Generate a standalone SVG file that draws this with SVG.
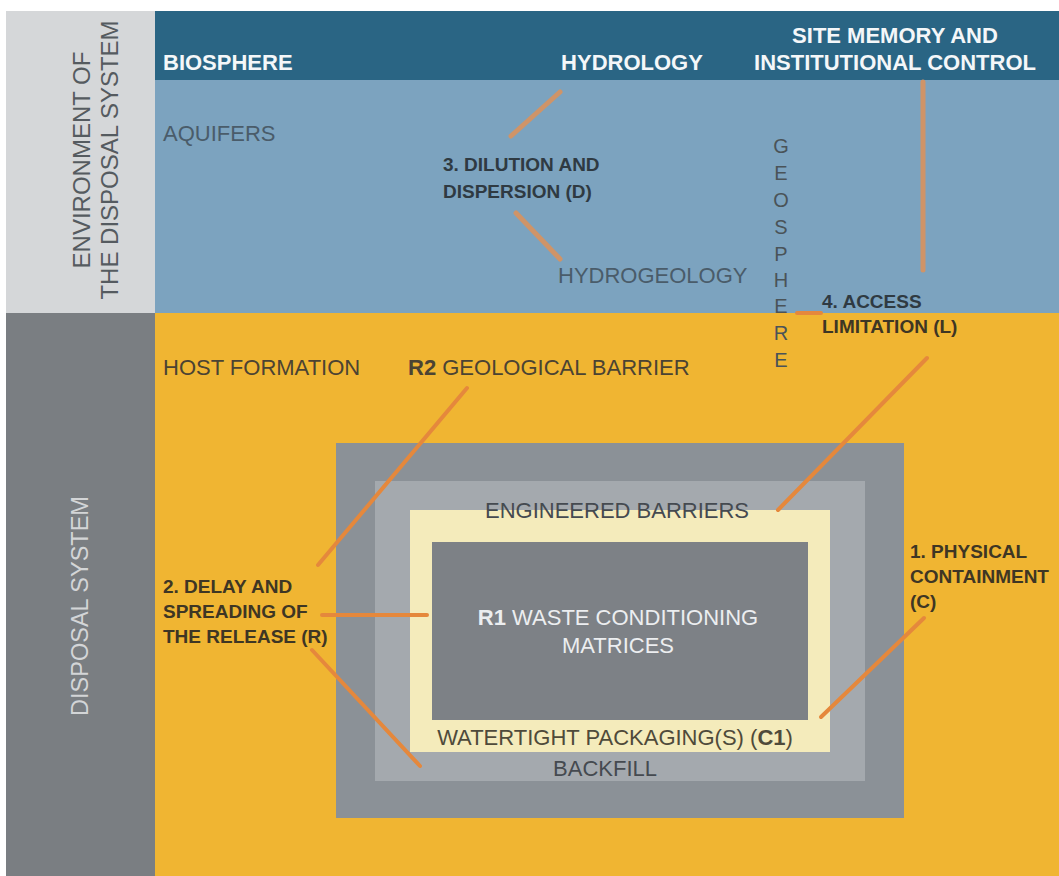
<svg xmlns="http://www.w3.org/2000/svg" width="1059" height="876" viewBox="0 0 1059 876">
<style>
text{font-family:"Liberation Sans",Arial,sans-serif}
.hd{fill:#f4f7f9;font-weight:bold;font-size:22px}
.bl{fill:#4a5c6a;font-size:22px}
.lbl{fill:#2f3a42;font-weight:bold;font-size:19px}
.yl{fill:#4b4333;font-size:22px}
.ylb{fill:#3e3624;font-weight:bold;font-size:19px}
.gr{fill:#454a50;font-size:22px}
.wt{fill:#eceef0;font-size:22px}
.geo{fill:#4a5358;font-size:20px;text-anchor:middle}
.ln{stroke:#e5883c;stroke-width:4;fill:none;stroke-linecap:round}
.lnb{stroke:#cf9468;stroke-width:5;fill:none;stroke-linecap:round}
</style>
<rect width="1059" height="876" fill="#ffffff"/>
<g id="environment-side">
<rect x="6" y="11" width="149" height="302" fill="#d5d7d9"/>
<text transform="translate(90,160) rotate(-90)" text-anchor="middle" font-size="24" fill="#555b60">ENVIRONMENT OF</text>
<text transform="translate(118,160) rotate(-90)" text-anchor="middle" font-size="24" fill="#555b60">THE DISPOSAL SYSTEM</text>
</g>
<g id="disposal-side">
<rect x="6" y="313" width="149" height="563" fill="#7a7e82"/>
<text transform="translate(88,606) rotate(-90)" text-anchor="middle" font-size="23.5" fill="#d3d5d7">DISPOSAL SYSTEM</text>
</g>
<g id="biosphere-band">
<rect x="155" y="11" width="904" height="69" fill="#2a6584"/>
<text class="hd" x="163" y="70" font-size="23">BIOSPHERE</text>
<text class="hd" x="632" y="70" text-anchor="middle">HYDROLOGY</text>
<text class="hd" x="895" y="43" text-anchor="middle">SITE MEMORY AND</text>
<text class="hd" x="895" y="70" text-anchor="middle">INSTITUTIONAL CONTROL</text>
</g>
<g id="aquifers">
<rect x="155" y="80" width="904" height="233" fill="#7ca3bf"/>
<text class="bl" x="163" y="141">AQUIFERS</text>
<text class="bl" x="558" y="283">HYDROGEOLOGY</text>
</g>
<g id="host-formation">
<rect x="155" y="313" width="904" height="563" fill="#f0b532"/>
<text class="yl" x="163" y="375">HOST FORMATION</text>
<text class="yl" x="408" y="375"><tspan font-weight="bold">R2</tspan> GEOLOGICAL BARRIER</text>
</g>
<g id="geosphere">
<text class="geo" x="781" y="153">G</text>
<text class="geo" x="781" y="180">E</text>
<text class="geo" x="781" y="207">O</text>
<text class="geo" x="781" y="234">S</text>
<text class="geo" x="781" y="261">P</text>
<text class="geo" x="781" y="287">H</text>
<text class="geo" x="781" y="313">E</text>
<text class="geo" x="781" y="340">R</text>
<text class="geo" x="781" y="367">E</text>
</g>
<g id="backfill">
<rect x="336" y="443" width="568" height="375" fill="#8b9197"/>
<rect x="375" y="481" width="490" height="300" fill="#a4a9ae"/>
<text class="gr" x="605" y="776" text-anchor="middle">BACKFILL</text>
</g>
<g id="packaging">
<rect x="410" y="510" width="420" height="242" fill="#f4ebbb"/>
<text class="gr" x="617" y="518" text-anchor="middle">ENGINEERED BARRIERS</text>
<text x="615" y="745" text-anchor="middle" font-size="22" fill="#4f4a3a">WATERTIGHT PACKAGING(S) (<tspan font-weight="bold">C1</tspan>)</text>
</g>
<g id="waste-matrices">
<rect x="432" y="542" width="376" height="178" fill="#7d8186"/>
<text class="wt" x="618" y="625" text-anchor="middle"><tspan font-weight="bold">R1</tspan> WASTE CONDITIONING</text>
<text class="wt" x="618" y="653" text-anchor="middle">MATRICES</text>
</g>
<g id="function-labels">
<text class="lbl" x="443" y="171">3. DILUTION AND</text>
<text class="lbl" x="443" y="198">DISPERSION (D)</text>
<text class="lbl" x="822" y="308">4. ACCESS</text>
<text class="ylb" x="822" y="333">LIMITATION (L)</text>
<text class="ylb" x="910" y="558">1. PHYSICAL</text>
<text class="ylb" x="910" y="583">CONTAINMENT</text>
<text class="ylb" x="910" y="608">(C)</text>
<text class="ylb" x="163" y="593">2. DELAY AND</text>
<text class="ylb" x="163" y="618">SPREADING OF</text>
<text class="ylb" x="163" y="643">THE RELEASE (R)</text>
</g>
<g id="connectors">
<line class="lnb" x1="560" y1="92" x2="511" y2="136"/>
<line class="lnb" x1="516" y1="213" x2="560" y2="259"/>
<line class="lnb" x1="923" y1="82" x2="923" y2="270" stroke-width="8" stroke-linecap="butt"/>
<line class="ln" x1="797" y1="313" x2="821" y2="313" stroke-width="3"/>
<line class="ln" x1="927" y1="358" x2="778" y2="510"/>
<line class="ln" x1="467" y1="388" x2="318" y2="565"/>
<line class="ln" x1="322" y1="615" x2="427" y2="615"/>
<line class="ln" x1="312" y1="650" x2="420" y2="766"/>
<line class="ln" x1="924" y1="618" x2="821" y2="717"/>
</g>
</svg>
